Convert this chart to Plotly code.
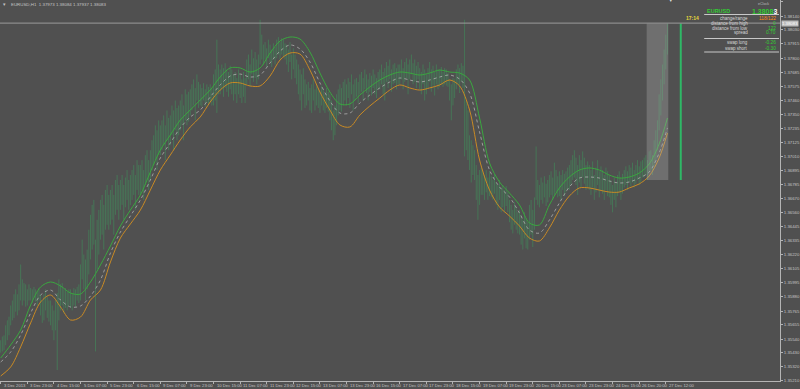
import plotly.graph_objects as go

# ---------------- data ----------------
symbol_title = "EURUSD,H1  1.37973 1.38084 1.37937 1.38083"
bid = 1.38083

x_labels = ["3 Dec 2013", "3 Dec 23:00", "4 Dec 15:00", "5 Dec 07:00", "5 Dec 23:00",
            "6 Dec 15:00", "9 Dec 07:00", "9 Dec 23:00", "10 Dec 15:00", "11 Dec 07:00",
            "11 Dec 23:00", "12 Dec 15:00", "13 Dec 07:00", "13 Dec 23:00", "16 Dec 15:00",
            "17 Dec 07:00", "17 Dec 23:00", "18 Dec 15:00", "19 Dec 07:00", "19 Dec 23:00",
            "20 Dec 15:00", "23 Dec 07:00", "23 Dec 23:00", "24 Dec 15:00", "26 Dec 20:00",
            "27 Dec 12:00"]
bars_per_label = 16

price_ticks = [1.38255, 1.38140, 1.38030, 1.37915, 1.37800, 1.37685, 1.37575, 1.37460,
               1.37350, 1.37235, 1.37125, 1.37010, 1.36895, 1.36785, 1.36670, 1.36560,
               1.36445, 1.36335, 1.36220, 1.36105, 1.35995, 1.35880, 1.35765, 1.35655,
               1.35540, 1.35430, 1.35320, 1.35210]

# hourly bar highs / lows in pips (price * 10000)
high_pips = [
    13553, 13556, 13557, 13565, 13569, 13572,
    13581, 13585, 13590, 13594, 13590, 13598,
    13614, 13602, 13599, 13598, 13594, 13598,
    13595, 13594, 13596, 13594, 13592, 13595,
    13590, 13585, 13590, 13594, 13588, 13585,
    13585, 13581, 13577, 13585, 13591, 13602,
    13598, 13599, 13594, 13595, 13592, 13594,
    13594, 13591, 13595, 13594, 13596, 13598,
    13614, 13634, 13622, 13618, 13626, 13642,
    13654, 13662, 13666, 13634, 13650, 13658,
    13666, 13670, 13662, 13674, 13678, 13670,
    13674, 13678, 13670, 13682, 13686, 13678,
    13682, 13686, 13678, 13684, 13690, 13682,
    13686, 13690, 13694, 13686, 13698, 13694,
    13694, 13698, 13690, 13702, 13706, 13698,
    13706, 13714, 13718, 13726, 13722, 13730,
    13726, 13730, 13734, 13726, 13738, 13732,
    13734, 13742, 13738, 13746, 13740, 13742,
    13746, 13751, 13742, 13755, 13751, 13753,
    13755, 13759, 13763, 13756, 13767, 13761,
    13759, 13756, 13760, 13755, 13759, 13757, 13759, 13756,
    13767, 13771, 13795, 13775,
    13771, 13775, 13772, 13776, 13771, 13769, 13774, 13771,
    13767, 13769, 13764, 13771, 13767, 13763, 13769, 13764,
    13779, 13783, 13775, 13787, 13780, 13785, 13779, 13783,
    13811, 13799,
    13791, 13793, 13788, 13795, 13791, 13787, 13792, 13789,
    13795, 13797, 13793, 13796, 13795, 13792,
    13791, 13787, 13793, 13783, 13788, 13783,
    13779, 13775, 13771, 13767, 13772, 13763,
    13759, 13761, 13756, 13759, 13763, 13755, 13759, 13756, 13753, 13758, 13755, 13751, 13756, 13753,
    13751, 13746, 13738, 13742, 13751, 13755, 13759, 13756, 13761,
    13763, 13759, 13764, 13761, 13767, 13759, 13763, 13764, 13761,
    13767, 13769, 13764, 13771, 13767, 13763, 13768, 13766, 13771, 13767, 13764, 13769,
    13771, 13775, 13769, 13772, 13777, 13774, 13779, 13771, 13775, 13776, 13772, 13775,
    13775, 13779, 13772, 13777, 13780, 13775, 13779, 13783, 13776, 13779, 13774, 13777,
    13772, 13769, 13775, 13771, 13767, 13772, 13777, 13771, 13774, 13769, 13775, 13771,
    13771, 13773, 13769, 13772, 13771, 13768,
    13763, 13759, 13764, 13763,
    13771, 13775, 13772, 13776, 13774,
    13811,
    13746, 13738,
    13718, 13714, 13710, 13706,
    13694, 13686, 13690, 13692,
    13689, 13686, 13690, 13684, 13689, 13685, 13682, 13687,
    13680, 13678, 13682, 13676, 13678, 13674, 13677, 13672,
    13666, 13662, 13658, 13664, 13660, 13656,
    13658, 13654, 13650, 13656, 13651, 13648,
    13662, 13666, 13658, 13668,
    13709,
    13682, 13678, 13684, 13680, 13685, 13679, 13682,
    13686, 13689, 13684, 13696, 13690, 13685, 13689, 13686, 13690, 13687, 13689, 13692,
    13694, 13698, 13702, 13706, 13700, 13694, 13702, 13698, 13705, 13700, 13694, 13697,
    13694, 13690, 13697, 13686, 13692, 13698, 13689, 13693, 13690, 13686, 13692, 13689,
    13686, 13682, 13678, 13684, 13680, 13686, 13689, 13684, 13687,
    13690, 13693, 13689, 13694, 13692, 13696, 13690, 13694, 13698, 13693, 13697, 13698,
    13700, 13702, 13698, 13705, 13706, 13702,
    13714, 13722, 13730,
    13751, 13763, 13775, 13787, 13799, 13808,
]
low_pips = [
    13543, 13544, 13545, 13549, 13553, 13557,
    13565, 13569, 13571, 13576, 13573, 13577,
    13585, 13581, 13585, 13580, 13581, 13585,
    13585, 13583, 13587, 13584, 13581, 13585,
    13573, 13567, 13569, 13577, 13571, 13568,
    13565, 13561, 13553, 13561, 13529, 13569,
    13577, 13581, 13575, 13579, 13577, 13581,
    13579, 13577, 13581, 13580, 13585, 13583,
    13585, 13602, 13594, 13585, 13594, 13606,
    13618, 13626, 13630, 13544, 13610, 13622,
    13634, 13638, 13626, 13642, 13646, 13642,
    13646, 13650, 13638, 13654, 13658, 13650,
    13658, 13662, 13650, 13660, 13666, 13658,
    13662, 13666, 13670, 13658, 13674, 13670,
    13670, 13674, 13666, 13678, 13682, 13674,
    13682, 13690, 13694, 13698, 13690, 13702,
    13702, 13706, 13710, 13698, 13714, 13706,
    13710, 13718, 13706, 13722, 13714, 13718,
    13722, 13726, 13714, 13730, 13726, 13729,
    13734, 13738, 13742, 13730, 13746, 13740,
    13742, 13741, 13746, 13741, 13744, 13742, 13745, 13742,
    13742, 13746, 13736, 13751,
    13751, 13755, 13749, 13756, 13753, 13749, 13755, 13751,
    13746, 13751, 13744, 13751, 13748, 13744, 13749, 13744,
    13759, 13763, 13757, 13767, 13761, 13764, 13759, 13763,
    13775, 13779,
    13775, 13779, 13773, 13780, 13777, 13773, 13779, 13775,
    13780, 13783, 13779, 13783, 13781, 13779,
    13775, 13769, 13777, 13763, 13771, 13764,
    13759, 13751, 13746, 13738, 13751, 13740,
    13742, 13746, 13738, 13736, 13746, 13738, 13742, 13740, 13736, 13742, 13738, 13736, 13740, 13737,
    13730, 13722, 13714, 13718, 13726, 13734, 13738, 13737, 13742,
    13746, 13742, 13748, 13740, 13751, 13738, 13746, 13749, 13744,
    13751, 13753, 13746, 13755, 13752, 13746, 13753, 13750, 13756, 13751, 13748, 13755,
    13755, 13759, 13751, 13746, 13761, 13756, 13763, 13753, 13759, 13760, 13755, 13759,
    13759, 13763, 13755, 13761, 13764, 13751, 13763, 13767, 13759, 13761, 13756, 13763,
    13755, 13751, 13759, 13746, 13751, 13756, 13761, 13753, 13758, 13750, 13759, 13755,
    13757, 13759, 13757, 13759, 13758, 13757,
    13746, 13730, 13742, 13748,
    13755, 13759, 13752, 13761, 13756,
    13701,
    13706, 13698,
    13690, 13680, 13686, 13682,
    13666, 13650, 13662, 13670,
    13670, 13666, 13672, 13666, 13669, 13668, 13666, 13671,
    13662, 13658, 13666, 13656, 13660, 13656, 13661, 13656,
    13648, 13642, 13639, 13646, 13642, 13639,
    13638, 13630, 13626, 13635, 13627, 13626,
    13634, 13638, 13628, 13642,
    13666,
    13662, 13660, 13666, 13663, 13668, 13661, 13664,
    13668, 13670, 13666, 13670, 13672, 13668, 13669, 13666, 13674, 13669, 13672, 13674,
    13674, 13678, 13682, 13684, 13678, 13670, 13680, 13676, 13684, 13679, 13674, 13676,
    13674, 13670, 13676, 13666, 13672, 13678, 13668, 13674, 13671, 13666, 13674, 13669,
    13668, 13662, 13656, 13666, 13660, 13669, 13672, 13666, 13671,
    13676, 13678, 13674, 13680, 13677, 13680, 13676, 13679, 13682, 13678, 13680, 13684,
    13684, 13686, 13682, 13688, 13690, 13686,
    13692, 13698, 13706,
    13722, 13734, 13746, 13759, 13771, 13783,
]

# moving-average style envelope lines, sampled every 6 bars (price * 100000)
ma_sample_step = 6
ma_upper = [135387, 135492, 135612, 135814, 135959, 135999, 135967, 135910, 135902, 135999,
            136136, 136289, 136450, 136578, 136699, 136884, 137061, 137182, 137303, 137383,
            137464, 137544, 137649, 137722, 137722, 137689, 137722, 137842, 137939, 137971,
            137955, 137850, 137681, 137528, 137432, 137432, 137504, 137569, 137625, 137665,
            137689, 137681, 137665, 137681, 137705, 137689, 137681, 137625, 137319, 136957,
            136804, 136715, 136619, 136474, 136458, 136619, 136756, 136844, 136900, 136917,
            136900, 136860, 136836, 136844, 136876, 136949, 137110, 137319]
ma_middle = [135355, 135435, 135572, 135749, 135894, 135934, 135854, 135798, 135806, 135886,
             136015, 136232, 136401, 136530, 136659, 136820, 136997, 137118, 137239, 137327,
             137383, 137488, 137585, 137657, 137673, 137649, 137665, 137762, 137858, 137907,
             137875, 137770, 137601, 137456, 137359, 137359, 137440, 137504, 137561, 137609,
             137641, 137625, 137609, 137625, 137649, 137665, 137633, 137520, 137206, 136900,
             136764, 136683, 136554, 136417, 136393, 136498, 136635, 136764, 136836, 136844,
             136836, 136812, 136796, 136804, 136836, 136884, 137037, 137239]
ma_lower = [135242, 135315, 135476, 135669, 135838, 135894, 135798, 135693, 135717, 135854,
            135934, 136160, 136353, 136466, 136578, 136739, 136900, 137021, 137142, 137247,
            137327, 137448, 137544, 137601, 137601, 137577, 137577, 137657, 137786, 137842,
            137834, 137705, 137528, 137383, 137263, 137247, 137343, 137416, 137480, 137544,
            137585, 137561, 137544, 137561, 137585, 137625, 137577, 137383, 136981, 136739,
            136603, 136530, 136450, 136353, 136329, 136434, 136578, 136691, 136756, 136756,
            136739, 136723, 136723, 136756, 136788, 136852, 136997, 137198]

day_start_bar = 389          # first bar of the current day (range box)
range_bar_offset = 8         # daily-range bar drawn to the right of the last bar

panel_rows = [("change/range", "118/122", "#ff8c1a"),
              ("distance from high", "0", "#33cc33"),
              ("distance from low", "122", "#33cc33"),
              ("spread", "0.70", "#33cc33"),
              ("swap long", "-0.26", "#33cc33"),
              ("swap short", "-0.30", "#33cc33")]

# ---------------- derived ----------------
high = [v / 10000 for v in high_pips]
low = [v / 10000 for v in low_pips]
n = min(len(high), len(low))
high, low = high[:n], low[:n]
ma_x = list(range(0, ma_sample_step * (len(ma_upper) - 1), ma_sample_step)) + [n - 1]
ma_up = [v / 100000 for v in ma_upper]
ma_mid = [v / 100000 for v in ma_middle]
ma_lo = [v / 100000 for v in ma_lower]
label_bars = [i * bars_per_label for i in range(len(x_labels))]

BG = "#505050"
AX = "#b4b4b4"
TXT = "#c4c4c4"
FONT = "Liberation Sans"

W, H = 800, 389
ML, MR, MT, MB = 0, 18, 0, 8
PW, PH = W - ML - MR, H - MT - MB
def PX(px):
    return (px - ML) / PW
def PY(py):
    return 1 - (py - MT) / PH

fig = go.Figure()

# price bars
bx, by = [], []
for i in range(n):
    bx += [i, i, None]
    by += [low[i], high[i], None]
fig.add_trace(go.Scatter(x=bx, y=by, mode="lines",
                         line=dict(color="rgba(62,150,92,0.72)", width=0.75),
                         hoverinfo="skip", showlegend=False))

# envelope lines
fig.add_trace(go.Scatter(x=ma_x, y=ma_lo, mode="lines",
                         line=dict(color="#c98a24", width=1, shape="spline", smoothing=0.9),
                         hoverinfo="skip", showlegend=False))
fig.add_trace(go.Scatter(x=ma_x, y=ma_mid, mode="lines",
                         line=dict(color="#b0b0b0", width=0.8, dash="dot", shape="spline", smoothing=0.9),
                         hoverinfo="skip", showlegend=False))
fig.add_trace(go.Scatter(x=ma_x, y=ma_up, mode="lines",
                         line=dict(color="#3aa83f", width=1, shape="spline", smoothing=0.9),
                         hoverinfo="skip", showlegend=False))

# current day range box + range bar
day_hi = max(high[day_start_bar:])
day_lo = min(low[day_start_bar:])
fig.add_shape(type="rect", xref="x", yref="y", x0=day_start_bar - 0.5, x1=n - 0.5,
              y0=day_lo, y1=day_hi, fillcolor="rgba(175,175,175,0.33)", line_width=0, layer="above")
fig.add_trace(go.Scatter(x=[n - 1 + range_bar_offset] * 2, y=[day_lo, day_hi], mode="lines",
                         line=dict(color="#2fb866", width=2), hoverinfo="skip", showlegend=False))

# bid line
fig.add_shape(type="line", xref="paper", yref="y", x0=0, x1=1, y0=bid, y1=bid,
              line=dict(color="#9a9a9a", width=1), layer="above")

ann = []
# bid label on the price scale
ann.append(dict(xref="paper", yref="y", x=1, y=bid, xanchor="left", yanchor="middle",
                xshift=1, text=f"{bid:.5f}", showarrow=False, bgcolor="#bdbdbd",
                font=dict(family=FONT, size=4.3, color="#ffffff"), borderpad=0))
# time labels
for b, t in zip(label_bars, x_labels):
    ann.append(dict(xref="x", yref="paper", x=b, y=PY(385.5), xanchor="left", yanchor="middle",
                    xshift=1, text=t, showarrow=False, font=dict(family=FONT, size=4.2, color=TXT)))
# title
ann.append(dict(xref="paper", yref="paper", x=PX(9), y=PY(4.5), xanchor="left", yanchor="middle",
                text=symbol_title, showarrow=False, font=dict(family=FONT, size=4.4, color=TXT)))
ann.append(dict(xref="paper", yref="paper", x=PX(1.5), y=PY(4.5), xanchor="left", yanchor="middle",
                text="▾", showarrow=False, font=dict(family=FONT, size=5, color=TXT)))
ann.append(dict(xref="paper", yref="paper", x=PX(672), y=PY(1.5), xanchor="center", yanchor="middle",
                text="▼", showarrow=False, font=dict(family=FONT, size=3.5, color="#dddddd")))
# info panel
ann.append(dict(xref="paper", yref="paper", x=PX(773), y=PY(3.5), xanchor="right", yanchor="middle",
                text="eClock", showarrow=False, font=dict(family=FONT, size=3.6, color="#bbbbbb")))
ann.append(dict(xref="paper", yref="paper", x=PX(707), y=PY(11), xanchor="left", yanchor="middle",
                text="<b>EURUSD</b>", showarrow=False, font=dict(family=FONT, size=5.5, color="#33cc33")))
ann.append(dict(xref="paper", yref="paper", x=PX(781), y=PY(11.5), xanchor="right", yanchor="middle",
                text="<b>1.3808<span style='color:#ffffff'>3</span></b>", showarrow=False,
                font=dict(family=FONT, size=7, color="#33cc33")))
ann.append(dict(xref="paper", yref="paper", x=PX(703), y=PY(18), xanchor="right", yanchor="middle",
                text="<b>17:14</b>", showarrow=False, font=dict(family=FONT, size=5, color="#e6d63c")))
row_y = [18.5, 23.5, 28.5, 33.0, 43.0, 48.0]
for (lab, val, col), yy in zip(panel_rows, row_y):
    ann.append(dict(xref="paper", yref="paper", x=PX(752), y=PY(yy), xanchor="right", yanchor="middle",
                    text=lab, showarrow=False, font=dict(family=FONT, size=4.5, color="#d8d8d8")))
    ann.append(dict(xref="paper", yref="paper", x=PX(780), y=PY(yy), xanchor="right", yanchor="middle",
                    text=val, showarrow=False, font=dict(family=FONT, size=4.8, color=col)))
for yy in (14.5, 38.5, 52.0):
    fig.add_shape(type="line", xref="paper", yref="paper", x0=PX(706), x1=PX(781),
                  y0=PY(yy), y1=PY(yy), line=dict(color="#c8c8c8", width=1))

fig.update_layout(
    width=W, height=H, margin=dict(l=ML, r=MR, t=MT, b=MB, pad=0),
    paper_bgcolor=BG, plot_bgcolor=BG, showlegend=False, annotations=ann,
    font=dict(family=FONT, color=TXT),
    xaxis=dict(range=[-0.42, -0.42 + PW / 1.667], showgrid=False, zeroline=False,
               showline=True, linecolor=AX, linewidth=1, ticks="outside", ticklen=2,
               tickcolor=AX, tickvals=label_bars, showticklabels=False, fixedrange=True),
    yaxis=dict(range=[1.35202, 1.38269], side="right", showgrid=False, zeroline=False,
               showline=True, linecolor=AX, linewidth=1, ticks="outside", ticklen=2,
               tickcolor=AX, tickvals=price_ticks, ticktext=[f"{v:.5f}" for v in price_ticks],
               tickfont=dict(family=FONT, size=4.3, color=TXT), fixedrange=True),
)

fig.write_html("out.html")
